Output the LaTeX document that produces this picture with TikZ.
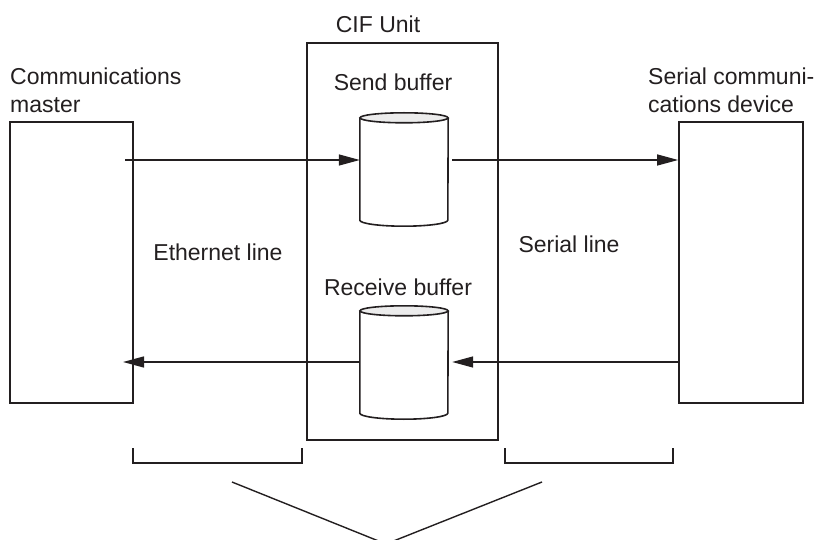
\documentclass[tikz,border=0pt]{standalone}
\usepackage{fontspec}
\setmainfont{Liberation Sans}
\usetikzlibrary{positioning, arrows.meta}
\definecolor{ink}{HTML}{231F20}

\begin{document}
\begin{tikzpicture}[x=1pt, y=-1pt, ink,
  font=\fontsize{23}{28}\selectfont,
  unitbox/.style={draw, line width=1.8pt, inner sep=0pt},
  buffer/.style={inner sep=0pt, minimum width=88pt, minimum height=102pt},
  flow/.style={-{Triangle[length=21pt, width=11pt]}, line width=1.4pt},
  label/.style={inner sep=0pt, align=left}]
\useasboundingbox (0,0) rectangle (822,540);
% devices
\node[unitbox, minimum width=123pt, minimum height=281pt] (master) at (71.5,262.5) {};
\node[unitbox, minimum width=124pt, minimum height=281pt] (serial) at (741,262.5) {};
\node[unitbox, minimum width=191pt, minimum height=397pt] (cif) at (402.5,241.5) {};
\node[buffer] (sendbuf) at (404,169) {};
\node[buffer] (recvbuf) at (404,362) {};
% buffer drums
\foreach \b in {sendbuf, recvbuf} {
  \draw[line width=1.6pt] (\b.north west) -- (\b.south west)
    arc[start angle=180, end angle=360, x radius=44pt, y radius=6pt] -- (\b.north east);
  \draw[line width=1.6pt, fill=gray!15] (\b.north) ellipse [x radius=44pt, y radius=5pt];
}
% texts
\node[label, anchor=north west] (mastertxt) at (10,68) {Communications\\master};
\node[label, anchor=north west] (serialtxt) at (648,68) {Serial communi-\\cations device};
\node[label, anchor=base] (ciftxt) at (378,33) {CIF Unit};
\node[label, anchor=base] (sendtxt) at (393,91) {Send buffer};
\node[label, anchor=base] (recvtxt) at (398,295) {Receive buffer};
\node[label, anchor=base] (ethtxt) at (218,261) {Ethernet line};
\node[label, anchor=base] (sertxt) at (569,253) {Serial line};
% data flow
\coordinate (m1) at (125,160);
\coordinate (m2) at (123,362);
\draw[flow] (m1) -- (m1 -| sendbuf.west);
\draw[flow, shorten <=4pt] (sendbuf.east |- m1) -- (m1 -| serial.west);
\draw[flow] (recvbuf.west) -- (m2);
\draw[flow, shorten >=4pt] (serial.west |- recvbuf) -- (recvbuf.east);
% line ranges
\draw[line width=1.6pt] (133,448) |- (302,463) -- (302,448);
\draw[line width=1.6pt] (505,448) |- (673,463) -- (673,448);
\draw[line width=1.4pt] (232,482) -- (386,544) -- (542,482);
\end{tikzpicture}
\end{document}
